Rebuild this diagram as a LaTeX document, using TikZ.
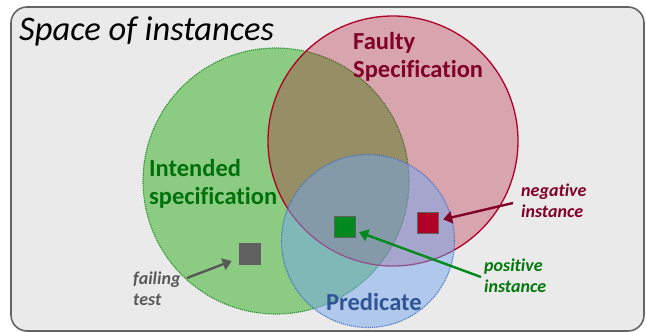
\documentclass[tikz,border=0pt]{standalone}
\usepackage{fontspec}
\setmainfont{Carlito}[Ligatures=NoCommon]
\usetikzlibrary{arrows.meta}
\definecolor{panel}{RGB}{234,234,234}
\definecolor{panelline}{RGB}{100,100,100}
\definecolor{intfill}{RGB}{45,173,27}
\definecolor{intline}{RGB}{30,140,40}
\definecolor{inttext}{RGB}{0,112,10}
\definecolor{faultfill}{RGB}{177,3,37}
\definecolor{faultline}{RGB}{176,0,40}
\definecolor{faulttext}{RGB}{128,0,40}
\definecolor{predfill}{RGB}{117,167,237}
\definecolor{predline}{RGB}{68,114,196}
\definecolor{predtext}{RGB}{47,85,151}
\definecolor{failgray}{RGB}{96,96,96}
\definecolor{failtext}{RGB}{89,89,89}
\definecolor{posgreen}{RGB}{0,138,30}
\definecolor{postext}{RGB}{0,120,10}
\definecolor{negred}{RGB}{176,0,37}
\tikzset{
  region/.style={circle, inner sep=0pt, minimum size=#1},
  inst/.style={minimum size=21pt, inner sep=0pt, draw=failgray, line width=1.5pt},
  setname/.style={font=\fontsize{24.5}{27.5}\selectfont\bfseries, align=left, inner sep=0pt, anchor=base west},
  note/.style={font=\fontsize{18}{21}\selectfont\bfseries\itshape, align=left, inner sep=0pt, anchor=base west},
  pointer/.style={line width=2.4pt, -{Triangle[length=9pt,width=12pt]}},
}
\begin{document}
\begin{tikzpicture}[x=1pt,y=-1pt]
\useasboundingbox (0,0) rectangle (646,332);
% the space of all instances
\draw[panelline, fill=panel, line width=1.6pt, rounded corners=16pt] (11,7) rectangle (644,331);
\node[anchor=base west, inner sep=0pt, font=\fontsize{34.5}{38}\selectfont\itshape] (title) at (19,41) {Space of instances};

% the three overlapping sets
\node[region=266pt, fill=intfill, fill opacity=0.5, draw=intline, densely dotted, line width=1.1pt] (intended) at (276,181) {};
\node[region=250pt, fill=faultfill, fill opacity=0.3, draw=faultline, line width=1.3pt] (faulty) at (393,141) {};
\node[region=173pt, fill=predfill, fill opacity=0.5, draw=predline, densely dotted, line width=1.1pt] (predicate) at (368,241) {};

% set names (placed by the baseline of their last line)
\node[setname, text=faulttext] (faultylbl) at (353,77) {Faulty\\Specification};
\node[setname, text=inttext] (intendedlbl) at (149,204) {Intended\\specification};
\node[setname, text=predtext] (predlbl) at (326,310) {Predicate};

% instances
\node[inst, fill=failgray, draw=none, minimum size=22pt] (fail) at (250,254) {};
\node[inst, fill=posgreen] (pos) at (345,227) {};
\node[inst, fill=negred] (neg) at (428,223) {};

% instance notes
\node[note, text=failtext] (faillbl) at (133,305) {failing\\test};
\node[note, text=postext] (poslbl) at (484,292) {positive\\instance};
\node[note, text=faulttext] (neglbl) at (521,217) {negative\\instance};

% pointers from the notes to the instances
\coordinate (failfrom) at (187,278);
\coordinate (posfrom) at (481,277);
\coordinate (negfrom) at (513,203);
\draw[pointer, failtext, shorten >=7pt] (failfrom) -- (fail);
\draw[pointer, posgreen, shorten >=3pt] (posfrom) -- (pos);
\draw[pointer, faulttext, shorten >=4pt] (negfrom) -- (neg);
\end{tikzpicture}
\end{document}
